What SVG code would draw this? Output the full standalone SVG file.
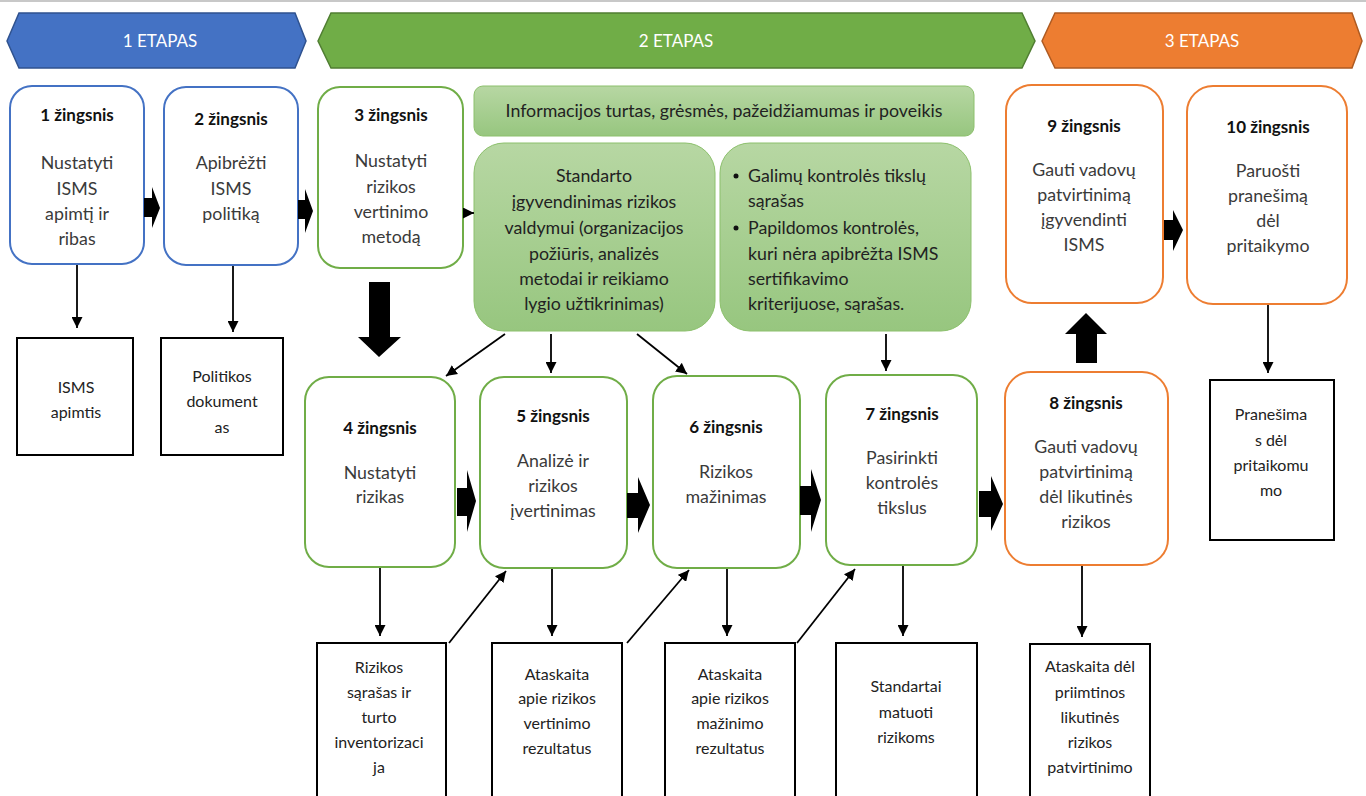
<svg xmlns="http://www.w3.org/2000/svg" width="1366" height="796" viewBox="0 0 1366 796">
<defs>
<marker id="ah" viewBox="0 0 10 10" refX="10" refY="5" markerWidth="11" markerHeight="11" markerUnits="userSpaceOnUse" orient="auto">
<path d="M0,0 L10,5 L0,10 z" fill="#000"/>
</marker>
<linearGradient id="gg" x1="0" y1="0" x2="0" y2="1">
<stop offset="0" stop-color="#b7d7a3"/>
<stop offset="1" stop-color="#97c67f"/>
</linearGradient>
<style>
text{font-family:Lato,"Open Sans","Liberation Sans",sans-serif;font-size:17.8px;fill:#3a3a3a;text-anchor:middle}
.t{font-weight:bold;fill:#111;font-size:17px}
.w{fill:#fff;font-size:17px}
.o{fill:#222;font-size:16px}
.d{fill:#222}
.b{stroke:#4472c4;stroke-width:2;fill:#fff}
.g{stroke:#70ad47;stroke-width:2;fill:#fff}
.r{stroke:#ed7d31;stroke-width:2;fill:#fff}
.f{stroke:#8cc06c;stroke-width:1;fill:url(#gg)}
.k{stroke:#000;stroke-width:2;fill:#fff}
.l{stroke:#000;stroke-width:1.8;fill:none;marker-end:url(#ah)}
.ba{fill:#000}
.lt{text-anchor:start}
</style>
</defs>
<rect width="1366" height="796" fill="#fff"/>
<line x1="0" y1="1" x2="1366" y2="1" stroke="#c8c8c8" stroke-width="2"/>

<g id="etapas1">
<polygon points="7,41 19,13 295,13 306,41 295,68 19,68" fill="#4472c4" stroke="#2f528f" stroke-width="1.5"/>
<text class="w" x="160" y="47">1 ETAPAS</text>
</g>
<g id="etapas2">
<polygon points="318,41 331,13 1022,13 1035,41 1022,68 331,68" fill="#70ad47" stroke="#507e32" stroke-width="1.5"/>
<text class="w" x="676" y="47">2 ETAPAS</text>
</g>
<g id="etapas3">
<polygon points="1042,41 1055,13 1352,13 1362,41 1352,68 1055,68" fill="#ed7d31" stroke="#ae5a21" stroke-width="1.5"/>
<text class="w" x="1202" y="47">3 ETAPAS</text>
</g>

<g id="step1">
<rect class="b" x="10" y="86" width="134" height="178" rx="22"/>
<text class="t" x="77" y="121">1 žingsnis</text>
<text x="77" y="169">Nustatyti</text>
<text x="77" y="195">ISMS</text>
<text x="77" y="220">apimtį ir</text>
<text x="77" y="245">ribas</text>
</g>
<g id="step2">
<rect class="b" x="164" y="87" width="134" height="178" rx="22"/>
<text class="t" x="231" y="125">2 žingsnis</text>
<text x="231" y="169">Apibrėžti</text>
<text x="231" y="195">ISMS</text>
<text x="231" y="220">politiką</text>
</g>
<g id="step3">
<rect class="g" x="318" y="87" width="145" height="181" rx="22"/>
<text class="t" x="391" y="121">3 žingsnis</text>
<text x="391" y="167">Nustatyti</text>
<text x="391" y="193">rizikos</text>
<text x="391" y="218">vertinimo</text>
<text x="391" y="243">metodą</text>
</g>
<g id="info">
<rect class="f" x="474" y="86" width="500" height="50" rx="9"/>
<text class="d" x="724" y="117">Informacijos turtas, grėsmės, pažeidžiamumas ir poveikis</text>
</g>
<g id="standartas">
<rect class="f" x="474" y="143" width="241" height="188" rx="30"/>
<text class="d" x="594" y="182">Standarto</text>
<text class="d" x="594" y="208">įgyvendinimas rizikos</text>
<text class="d" x="594" y="234">valdymui (organizacijos</text>
<text class="d" x="594" y="260">požiūris, analizės</text>
<text class="d" x="594" y="285">metodai ir reikiamo</text>
<text class="d" x="594" y="310">lygio užtikrinimas)</text>
</g>
<g id="kontroles">
<rect class="f" x="720" y="143" width="251" height="188" rx="30"/>
<circle cx="736" cy="176" r="2.5" fill="#111"/>
<circle cx="736" cy="228" r="2.5" fill="#111"/>
<text class="d lt" x="748" y="182">Galimų kontrolės tikslų</text>
<text class="d lt" x="748" y="207">sąrašas</text>
<text class="d lt" x="748" y="234">Papildomos kontrolės,</text>
<text class="d lt" x="748" y="260">kuri nėra apibrėžta ISMS</text>
<text class="d lt" x="748" y="285">sertifikavimo</text>
<text class="d lt" x="748" y="310">kriterijuose, sąrašas.</text>
</g>
<g id="step9">
<rect class="r" x="1006" y="85" width="157" height="218" rx="26"/>
<text class="t" x="1084" y="132">9 žingsnis</text>
<text x="1084" y="176">Gauti vadovų</text>
<text x="1084" y="201">patvirtinimą</text>
<text x="1084" y="226">įgyvendinti</text>
<text x="1084" y="251">ISMS</text>
</g>
<g id="step10">
<rect class="r" x="1187" y="86" width="160" height="218" rx="26"/>
<text class="t" x="1268" y="133">10 žingsnis</text>
<text x="1268" y="177">Paruošti</text>
<text x="1268" y="202">pranešimą</text>
<text x="1268" y="227">dėl</text>
<text x="1268" y="252">pritaikymo</text>
</g>

<g id="step4">
<rect class="g" x="305" y="377" width="150" height="190" rx="24"/>
<text class="t" x="380" y="434">4 žingsnis</text>
<text x="380" y="479">Nustatyti</text>
<text x="380" y="503">rizikas</text>
</g>
<g id="step5">
<rect class="g" x="480" y="377" width="147" height="191" rx="24"/>
<text class="t" x="553" y="422">5 žingsnis</text>
<text x="553" y="467">Analizė ir</text>
<text x="553" y="492">rizikos</text>
<text x="553" y="517">įvertinimas</text>
</g>
<g id="step6">
<rect class="g" x="653" y="376" width="147" height="192" rx="24"/>
<text class="t" x="726" y="433">6 žingsnis</text>
<text x="726" y="478">Rizikos</text>
<text x="726" y="503">mažinimas</text>
</g>
<g id="step7">
<rect class="g" x="826" y="375" width="151" height="190" rx="24"/>
<text class="t" x="902" y="420">7 žingsnis</text>
<text x="902" y="464">Pasirinkti</text>
<text x="902" y="489">kontrolės</text>
<text x="902" y="514">tikslus</text>
</g>
<g id="step8">
<rect class="r" x="1005" y="372" width="163" height="193" rx="26"/>
<text class="t" x="1086" y="409">8 žingsnis</text>
<text x="1086" y="453">Gauti vadovų</text>
<text x="1086" y="478">patvirtinimą</text>
<text x="1086" y="503">dėl likutinės</text>
<text x="1086" y="528">rizikos</text>
</g>

<g id="out1">
<rect class="k" x="17" y="338" width="116" height="117"/>
<text class="o" x="76" y="393">ISMS</text>
<text class="o" x="76" y="418">apimtis</text>
</g>
<g id="out2">
<rect class="k" x="161" y="338" width="122" height="117"/>
<text class="o" x="222" y="382">Politikos</text>
<text class="o" x="222" y="407">dokument</text>
<text class="o" x="222" y="433">as</text>
</g>
<g id="out10">
<rect class="k" x="1210" y="380" width="124" height="160"/>
<text class="o" x="1271" y="420">Pranešima</text>
<text class="o" x="1271" y="446">s dėl</text>
<text class="o" x="1271" y="471">pritaikomu</text>
<text class="o" x="1271" y="496">mo</text>
</g>
<g id="out4">
<rect class="k" x="317" y="643" width="129" height="160"/>
<text class="o" x="379" y="673">Rizikos</text>
<text class="o" x="379" y="698">sąrašas ir</text>
<text class="o" x="379" y="723">turto</text>
<text class="o" x="379" y="748">inventorizaci</text>
<text class="o" x="379" y="773">ja</text>
</g>
<g id="out5">
<rect class="k" x="492" y="643" width="130" height="160"/>
<text class="o" x="557" y="680">Ataskaita</text>
<text class="o" x="557" y="704">apie rizikos</text>
<text class="o" x="557" y="729">vertinimo</text>
<text class="o" x="557" y="754">rezultatus</text>
</g>
<g id="out6">
<rect class="k" x="665" y="643" width="130" height="160"/>
<text class="o" x="730" y="680">Ataskaita</text>
<text class="o" x="730" y="704">apie rizikos</text>
<text class="o" x="730" y="729">mažinimo</text>
<text class="o" x="730" y="754">rezultatus</text>
</g>
<g id="out7">
<rect class="k" x="836" y="643" width="141" height="160"/>
<text class="o" x="906" y="692">Standartai</text>
<text class="o" x="906" y="718">matuoti</text>
<text class="o" x="906" y="743">rizikoms</text>
</g>
<g id="out8">
<rect class="k" x="1030" y="644" width="120" height="160"/>
<text class="o" x="1090" y="672">Ataskaita dėl</text>
<text class="o" x="1090" y="698">priimtinos</text>
<text class="o" x="1090" y="723">likutinės</text>
<text class="o" x="1090" y="748">rizikos</text>
<text class="o" x="1090" y="773">patvirtinimo</text>
</g>

<g id="connectors">
<line class="l" x1="77" y1="265" x2="77" y2="328"/>
<line class="l" x1="233" y1="266" x2="233" y2="332"/>
<line class="l" x1="463" y1="213" x2="474" y2="213"/>
<line class="l" x1="505" y1="334" x2="446" y2="376"/>
<line class="l" x1="551" y1="334" x2="551" y2="373"/>
<line class="l" x1="637" y1="334" x2="687" y2="374"/>
<line class="l" x1="886" y1="334" x2="886" y2="371"/>
<line class="l" x1="380" y1="568" x2="380" y2="636"/>
<line class="l" x1="552" y1="569" x2="552" y2="636"/>
<line class="l" x1="727" y1="569" x2="727" y2="636"/>
<line class="l" x1="903" y1="566" x2="903" y2="636"/>
<line class="l" x1="1082" y1="566" x2="1082" y2="637"/>
<line class="l" x1="1268" y1="305" x2="1268" y2="373"/>
<line class="l" x1="449" y1="643" x2="506" y2="571"/>
<line class="l" x1="627" y1="643" x2="689" y2="570"/>
<line class="l" x1="797" y1="643" x2="855" y2="569"/>
<polygon class="ba" points="144,198 152,198 152,187 160,208 152,228 152,217 144,217"/>
<polygon class="ba" points="298,200 305,200 305,189 313,211 305,233 305,219 298,219"/>
<polygon class="ba" points="369,282 390,282 390,337 401,337 379,357 358,337 369,337"/>
<polygon class="ba" points="457,488 467,488 467,470 476,501 467,532 467,516 457,516"/>
<polygon class="ba" points="627,493 638,493 638,477 650,505 638,533 638,518 627,518"/>
<polygon class="ba" points="800,486 811,486 811,469 821,500 811,532 811,515 800,515"/>
<polygon class="ba" points="979,491 991,491 991,476 1003,504 991,531 991,517 979,517"/>
<polygon class="ba" points="1076,363 1097,363 1097,334 1107,334 1086,313 1065,334 1076,334"/>
<polygon class="ba" points="1164,220 1173,220 1173,210 1183,230 1173,251 1173,240 1164,240"/>
</g>
</svg>
